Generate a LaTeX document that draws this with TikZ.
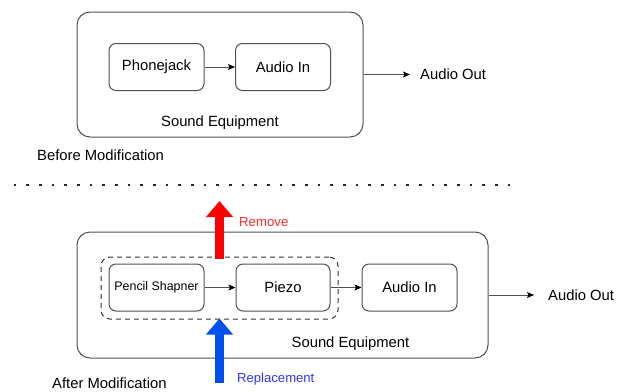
\documentclass[tikz,border=0pt]{standalone}
\usepackage{fontspec}
\setmainfont{Liberation Sans}
\usetikzlibrary{arrows.meta}
\definecolor{boxline}{HTML}{505050}
\definecolor{remred}{HTML}{FF0000}
\definecolor{remtext}{HTML}{FF2A2A}
\definecolor{repblue}{HTML}{0050EF}
\definecolor{reptext}{HTML}{3333FF}
\tikzset{
  outerbox/.style={draw=boxline, line width=1pt, rounded corners=13pt, minimum width=#1, minimum height=126pt, inner sep=0pt},
  innerbox/.style={draw=boxline, line width=1pt, rounded corners=7pt, minimum width=95pt, minimum height=47pt, inner sep=0pt, font=\fontsize{14.8}{17}\selectfont},
  dashbox/.style={draw=black!80, line width=1pt, dashed, dash pattern=on 5pt off 4pt, rounded corners=9pt, minimum width=237pt, minimum height=62pt, inner sep=0pt},
  lbl/.style={inner sep=0pt, font=\fontsize{14.8}{17}\selectfont},
  conn/.style={draw=boxline, line width=0.9pt, -{Stealth[length=7pt,width=6pt,inset=1.5pt,black]}},
  fatarrow/.style={line width=9pt, -{Triangle[length=16pt,width=26pt]}},
  dotmark/.style={fill=black!85, draw=none, minimum size=2.6pt, inner sep=0pt}
}
\begin{document}
\begin{tikzpicture}[x=1pt,y=-1pt]
\useasboundingbox (0,0) rectangle (621,391);
% ---------- Before ----------
\node[outerbox=286pt, minimum height=125pt] (outer1) at (220,74.5) {};
\node[innerbox] (phone) at (156.5,67) {Phonejack};
\node[innerbox] (ain1) at (283,67) {Audio In};
\draw[conn] (phone) -- (ain1);
\node[lbl] (se1) at (220,123) {Sound Equipment};
\coordinate (out1) at (410,74.5);
\draw[conn] (outer1.east) -- (out1);
\node[lbl, anchor=west] (ao1) at (420,74.5) {Audio Out};
\node[lbl, anchor=west] (before) at (37,155) {Before Modification};
% ---------- separator ----------
\foreach \i in {0,...,39} {
  \node[dotmark] (dot\i) at ({15+\i*12.67},185) {};
}
% ---------- After ----------
\node[outerbox=411pt] (outer2) at (282.5,295) {};
\node[dashbox] (grp) at (219.5,288) {};
\node[innerbox, font=\fontsize{12.4}{14}\selectfont] (pencil) at (156.5,287.5) {Pencil Shapner};
\node[innerbox, minimum width=94pt] (piezo) at (283,287.5) {Piezo};
\node[innerbox] (ain2) at (409.5,287.5) {Audio In};
\draw[conn] (pencil) -- (piezo);
\draw[conn] (piezo) -- (ain2);
\coordinate (out2) at (534,295);
\draw[conn] (outer2.east) -- (out2);
\node[lbl, anchor=west] (ao2) at (548,295) {Audio Out};
\node[lbl] (se2) at (350.5,344) {Sound Equipment};
\node[lbl, anchor=west] (after) at (52,383) {After Modification};
% red remove arrow
\coordinate (remtip) at (219.5,201);
\draw[fatarrow, remred] ([yshift=-2pt]grp.north) -- (remtip);
\node[inner sep=0pt, anchor=west, text=remtext, font=\fontsize{13.2}{15}\selectfont] (remove) at (239,222) {Remove};
% blue replacement arrow
\coordinate (repbase) at (219.5,383);
\draw[fatarrow, repblue] (repbase) -- ([yshift=1pt]grp.south);
\node[inner sep=0pt, anchor=west, text=reptext, font=\fontsize{13.1}{15}\selectfont] (replace) at (237,379) {Replacement};
\end{tikzpicture}
\end{document}
